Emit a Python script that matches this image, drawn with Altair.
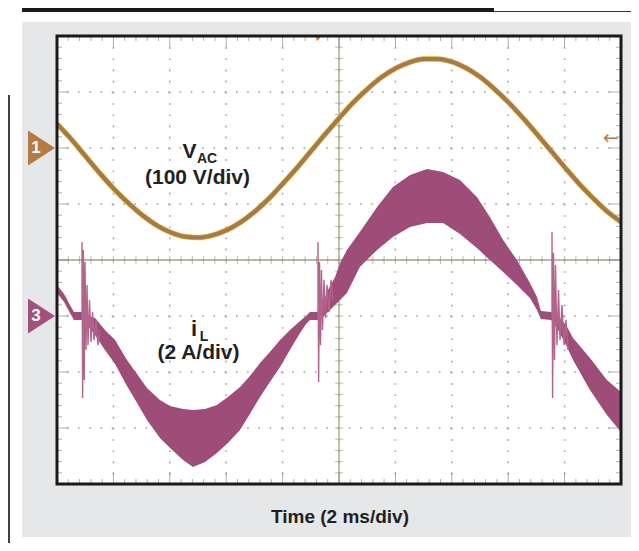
import altair as alt
import pandas as pd

W, H = 564, 448  # plot area (10 x 8 divisions)

# ---------------- data ----------------
# Channel ground offsets (divisions from screen centre)
ch1_offset = 2.0     # V_AC, 100 V/div
ch3_offset = -1.0    # i_L, 2 A/div
v_per_div = 100.0
a_per_div = 2.0

# V_AC trace (time in ms, volts)
vac_t = [0.0, 0.5, 1.0, 1.5, 2.0, 2.5, 3.0, 3.5, 4.0, 4.5, 5.0, 5.5,
         6.0, 6.5, 7.0, 7.5, 8.0, 8.5, 9.0, 9.5, 10.0, 10.5, 11.0,
         11.5, 12.0, 12.5, 13.0, 13.5, 14.0, 14.5, 15.0, 15.5, 16.0, 16.5, 17.0, 17.5,
         18.0, 18.5, 19.0, 19.5, 20.0]
vac_v = [43, 16, -14, -44, -72, -97, -119, -137, -150, -158, -160, -156,
         -147, -133, -114, -91, -64, -36, -6, 24, 53, 81, 105,
         126, 142, 153, 159, 159, 154, 143, 127, 106, 82, 55, 26, -4,
         -34, -63, -89, -113, -132]

# i_L ripple band envelope (time in ms, amps)
il_t = [0.00, 0.25, 0.46, 0.60, 0.89, 1.10, 1.35, 1.70, 2.06, 2.48, 2.84, 3.19, 3.65, 4.01,
        4.47, 4.82, 5.25, 5.67, 6.06, 6.49, 6.84, 7.20, 7.55, 7.91, 8.26, 8.62, 8.83, 8.97,
        9.22, 9.40, 9.61, 9.86, 10.04, 10.28, 10.74, 11.35, 11.91, 12.52, 13.12, 13.69,
        14.29, 14.89, 15.35, 15.82, 16.31, 16.77, 17.02, 17.16, 17.52, 17.77, 18.05, 18.30,
        18.90, 19.50, 20.00]
il_hi = [1.11, 0.79, 0.39, 0.14, 0.14, 0.0, -0.07, -0.50, -0.86, -1.57, -2.07, -2.57, -3.0,
         -3.21, -3.32, -3.36, -3.32, -3.18, -2.89, -2.54, -2.14, -1.68, -1.29, -0.86, -0.50,
         -0.18, 0.0, 0.14, 0.14, 0.39, 0.93, 1.39, 1.89, 2.36, 3.0, 3.89, 4.61, 5.04, 5.25,
         5.14, 4.86, 4.25, 3.54, 2.71, 2.0, 1.18, 0.68, 0.18, 0.14, 0.0, -0.32, -0.79, -1.5,
         -2.29, -2.71]
il_lo = [0.82, 0.50, 0.11, -0.14, -0.14, -0.36, -0.68, -1.21, -1.71, -2.50, -3.11, -3.71,
         -4.36, -4.71, -5.14, -5.39, -5.21, -4.89, -4.54, -4.07, -3.50, -2.89, -2.36, -1.82,
         -1.21, -0.61, -0.29, -0.14, -0.14, -0.07, 0.14, 0.39, 0.57, 0.82, 1.75, 2.36, 2.82,
         3.18, 3.32, 3.32, 2.93, 2.43, 2.0, 1.57, 1.11, 0.64, 0.21, -0.11, -0.14, -0.5,
         -1.04, -1.57, -2.64, -3.54, -4.14]

# i_L ringing at the zero crossings (time in ms, amps)
ring1_t = [0.887, 0.887, 0.908, 0.936, 0.965, 0.993, 1.028, 1.064, 1.099, 1.152, 1.206,
           1.259, 1.312, 1.383, 1.454, 1.525]
ring1_a = [0.0, 2.64, -2.93, 2.36, -2.29, 1.93, -1.21, 1.11, -1.04, 0.57, -0.93, 0.14,
           -0.86, -0.14, -1.04, -0.5]
ring2_t = [9.255, 9.255, 9.277, 9.309, 9.344, 9.379, 9.415, 9.468, 9.521, 9.574, 9.645,
           9.716, 9.787]
ring2_a = [0.0, 2.64, -2.36, 1.93, -1.04, 1.64, -0.5, 1.29, -0.07, 1.11, 0.14, 1.29, 0.57]
ring3_t = [17.553, 17.553, 17.574, 17.606, 17.642, 17.677, 17.730, 17.784, 17.837, 17.908,
           17.979, 18.050, 18.121]
ring3_a = [0.0, 3.0, -2.93, 2.25, -1.57, 1.82, -1.04, 0.93, -0.86, 0.39, -1.04, -0.14,
           -1.21]

# trigger markers
trig_t = [9.26]
trig_level_v = [18]

# graticule (major divisions)
major_x = list(range(0, 21, 2))
major_y = list(range(-4, 5))

# ---------------- styles ----------------
FONT = "Liberation Sans"
BROWN = "#A77A45"
YELLOW = "#D9B43E"
MAGENTA = "#9E4D78"
SPIKE = "#B2648C"
OLIVE = "#A3A28B"
GRIDC = "#9C9C9C"
GRAY_BG = "#E6E7E8"

xs = alt.Scale(domain=[0, 20], nice=False, zero=False)
ys = alt.Scale(domain=[-4, 4], nice=False, zero=False)


def X(f):
    return alt.X(f, scale=xs, axis=None)


def Y(f):
    return alt.Y(f, scale=ys, axis=None)


vac = pd.DataFrame({"t": vac_t, "v": vac_v})
band = pd.DataFrame({"t": il_t, "hi": il_hi, "lo": il_lo})
rt, ra, rg = [], [], []
for g, (tt, aa) in enumerate([(ring1_t, ring1_a), (ring2_t, ring2_a), (ring3_t, ring3_a)]):
    rt += tt
    ra += aa
    rg += [g] * len(tt)
ring = pd.DataFrame({"t": rt, "a": ra, "g": rg, "k": list(range(len(rt)))})

# graticule ticks (every 0.2 division)
vt_rows, ht_rows = [], []
for i in range(51):
    xv = round(0.4 * i, 1)
    vt_rows.append({"x": xv, "y": 0, "s": 8, "c": OLIVE})
    big = 24 if i % 5 == 0 else 10
    vt_rows.append({"x": xv, "y": 4, "s": big, "c": "#8c8c8c"})
    vt_rows.append({"x": xv, "y": -4, "s": big, "c": "#8c8c8c"})
for i in range(41):
    yv = round(0.2 * i - 4, 1)
    ht_rows.append({"x": 10, "y": yv, "s": 8, "c": OLIVE})
    big = 24 if i % 5 == 0 else 10
    ht_rows.append({"x": 0, "y": yv, "s": big, "c": "#8c8c8c"})
    ht_rows.append({"x": 20, "y": yv, "s": big, "c": "#8c8c8c"})
vt = pd.DataFrame(vt_rows)
ht = pd.DataFrame(ht_rows)

one = pd.DataFrame({"d": [0]})

# ---------------- decoration outside the plot ----------------
def prect(x, x2, y, y2, color):
    return alt.Chart(one).mark_rect(color=color).encode(
        x=alt.value(x), x2=alt.value(x2), y=alt.value(y), y2=alt.value(y2))

white_left = prect(-49, -35, -28, 507, "white")
white_top = prect(-49, 574, -28, -14, "white")
white_bot = prect(-49, 574, 501, 507, "white")
header = prect(-35, 437, -28, -24, "#1b1b1b")
header_line = alt.Chart(one).mark_rule(color="#333333", strokeWidth=1).encode(
    x=alt.value(437), x2=alt.value(574), y=alt.value(-24.5))
left_line = alt.Chart(one).mark_rule(color="#111111", strokeWidth=1.6).encode(
    x=alt.value(-48), y=alt.value(59), y2=alt.value(507))

# ---------------- graticule ----------------
grid_v = alt.Chart(pd.DataFrame({"x": major_x})).mark_rule(
    color=GRIDC, strokeWidth=1.5, strokeDash=[1.6, 9.6]).encode(x=X("x:Q"))
grid_h = alt.Chart(pd.DataFrame({"y": major_y})).mark_rule(
    color=GRIDC, strokeWidth=1.5, strokeDash=[1.6, 9.68]).encode(y=Y("y:Q"))
vticks = alt.Chart(vt).mark_tick(orient="vertical", thickness=1, clip=True).encode(
    x=X("x:Q"), y=Y("y:Q"),
    size=alt.Size("s:Q", scale=None), color=alt.Color("c:N", scale=None))
hticks = alt.Chart(ht).mark_tick(orient="horizontal", thickness=1, clip=True).encode(
    x=X("x:Q"), y=Y("y:Q"),
    size=alt.Size("s:Q", scale=None), color=alt.Color("c:N", scale=None))
center_v = alt.Chart(one).mark_rule(color=OLIVE, strokeWidth=1.3).encode(
    x=alt.datum(10, scale=xs, axis=None))
center_h = alt.Chart(one).mark_rule(color=OLIVE, strokeWidth=1.3).encode(
    y=alt.datum(0, scale=ys, axis=None))

# ---------------- traces ----------------
vac_base = alt.Chart(vac).transform_calculate(
    yd=f"{ch1_offset} + datum.v / {v_per_div}")
vac_glow = vac_base.mark_line(color=YELLOW, strokeWidth=5.4, interpolate="monotone").encode(
    x=X("t:Q"), y=Y("yd:Q"))
vac_line = vac_base.mark_line(color=BROWN, strokeWidth=4.0, interpolate="monotone").encode(
    x=X("t:Q"), y=Y("yd:Q"))

band_layer = alt.Chart(band).transform_calculate(
    yh=f"{ch3_offset} + datum.hi / {a_per_div}",
    yl=f"{ch3_offset} + datum.lo / {a_per_div}").mark_area(color=MAGENTA, opacity=1).encode(
    x=X("t:Q"), y=Y("yh:Q"), y2="yl:Q")

ring_layer = alt.Chart(ring).transform_calculate(
    yd=f"{ch3_offset} + datum.a / {a_per_div}").mark_line(color=SPIKE, strokeWidth=1.4).encode(
    x=X("t:Q"), y=Y("yd:Q"), detail="g:N", order="k:Q")

# ---------------- markers ----------------
markers = pd.DataFrame({"ch": ["1", "3"], "lvl": [ch1_offset, ch3_offset],
                        "c": ["#B47B45", "#A2507E"]})
tri = alt.Chart(markers).mark_point(shape="M -1 -1.3 L 1 0 L -1 1.3 Z", filled=True,
                                    size=729, opacity=1).encode(
    x=alt.value(-15.5), y=Y("lvl:Q"), color=alt.Color("c:N", scale=None))
tri_txt = alt.Chart(markers).mark_text(color="white", font=FONT, fontWeight="bold",
                                       fontSize=17, align="center", baseline="middle").encode(
    x=alt.value(-21), y=Y("lvl:Q"), text="ch:N")

trig = alt.Chart(pd.DataFrame({"t": trig_t})).mark_point(
    shape="triangle-down", filled=True, size=30, color="#F26A22", opacity=1).encode(
    x=X("t:Q"), y=alt.value(2.5))
trig_lvl = alt.Chart(pd.DataFrame({"v": trig_level_v})).transform_calculate(
    yd=f"{ch1_offset} + datum.v / {v_per_div}").mark_text(
    text="\u2190", color="#B47B45", fontSize=19, font="DejaVu Sans",
    align="center", baseline="middle").encode(
    x=alt.value(554), y=Y("yd:Q"))

# ---------------- labels ----------------
def label(txt, x, y, size):
    return alt.Chart(one).mark_text(text=txt, font=FONT, fontWeight="bold", fontSize=size,
                                    color="#231F20", align="center",
                                    baseline="alphabetic").encode(
        x=alt.value(x), y=alt.value(y))

labels = [
    label("V", 132.5, 122, 21),
    label("AC", 150, 127, 14),
    label("(100 V/div)", 140.5, 148, 21),
    label("i", 137, 300, 22),
    label("L", 147, 305, 14),
    label("(2 A/div)", 141.5, 323, 21),
    label("Time (2 ms/div)", 283, 487, 19),
]

frame = alt.Chart(one).mark_rect(filled=False, stroke="#1a1a1a", strokeWidth=3).encode(
    x=alt.value(0), x2=alt.value(W), y=alt.value(0), y2=alt.value(H))

chart = alt.layer(
    white_left, white_top, white_bot, header, header_line, left_line,
    grid_v, grid_h, center_v, center_h, vticks, hticks,
    band_layer, ring_layer, vac_glow, vac_line,
    tri, tri_txt, trig, trig_lvl, *labels, frame
).properties(
    width=W, height=H,
    autosize=alt.AutoSizeParams(type="none"),
    padding={"left": 49, "top": 28, "right": 10, "bottom": 59},
    background=GRAY_BG,
).configure_view(stroke="transparent", fill="white")

chart.save("out.html", embed_options={"renderer": "svg", "actions": False})
